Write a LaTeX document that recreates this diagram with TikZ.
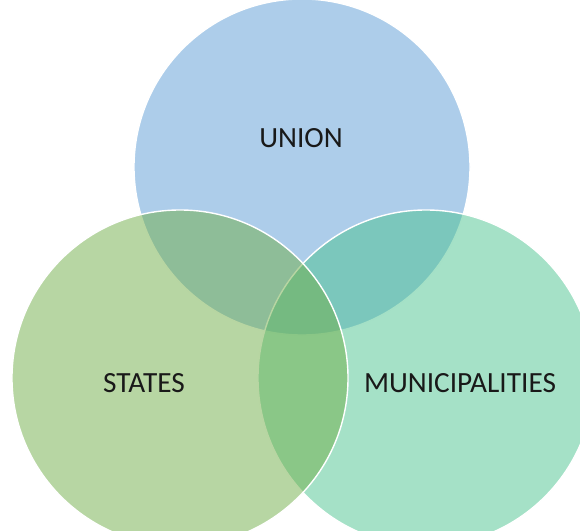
\documentclass[tikz,border=0pt]{standalone}
\usepackage{tikz}
\usepackage{fontspec}
\setmainfont{Carlito}
\usetikzlibrary{positioning}
\definecolor{unionblue}{RGB}{91,155,213}
\definecolor{stategreen}{RGB}{112,173,71}
\definecolor{munigreen}{RGB}{75,195,143}
\tikzset{every set/.style={circle,draw=white,line width=1.2pt,fill opacity=0.5,minimum size=10.08cm,inner sep=0pt},
	set label/.style={font=\fontsize{25}{28}\selectfont,text=black!90},
	x=0.03cm,y=-0.03cm}

\begin{document}
\begin{tikzpicture}
			\useasboundingbox (0,0) rectangle (580,531);
			% the three sets, drawn back to front
			\node[every set,fill=unionblue] (union) at (302,167) {};
			\node[every set,fill=munigreen] (munis) at (426,378) {};
			\node[every set,fill=stategreen] (states) at (180,378) {};
			% labels
			\node[set label] (unionlabel) at (301,138) {UNION};
			\node[set label] (stateslabel) at (144,383) {STATES};
			\node[set label] (munislabel) at (460,383) {MUNICIPALITIES};
		\end{tikzpicture}
\end{document}
